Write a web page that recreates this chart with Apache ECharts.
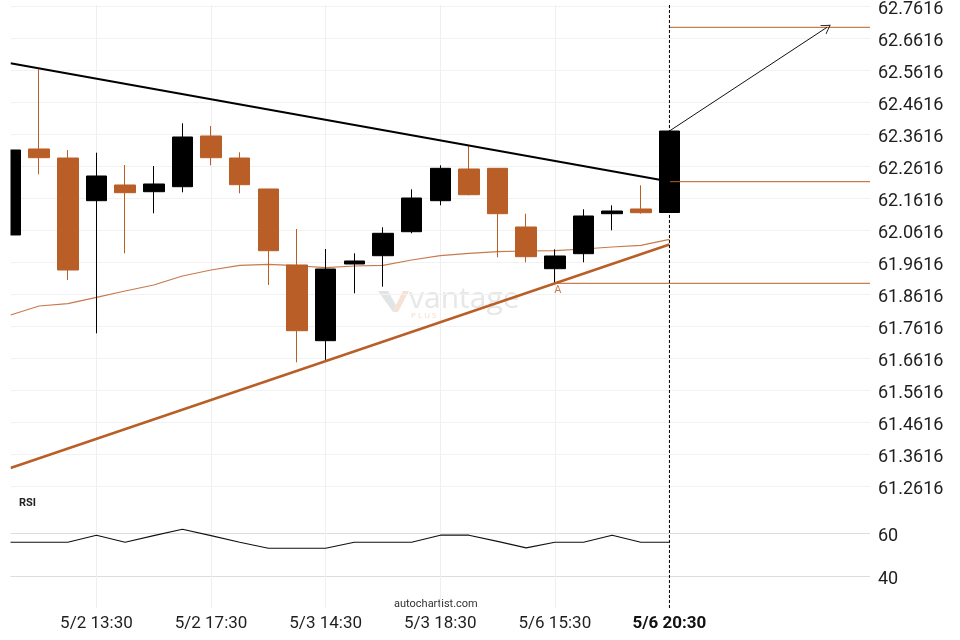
<!DOCTYPE html>
<html>
<head>
<meta charset="utf-8">
<script src="https://cdn.jsdelivr.net/npm/echarts@6/dist/echarts.min.js"></script>
<style>
html,body{margin:0;padding:0;background:#fff;}
#chart{width:960px;height:640px;}
</style>
</head>
<body>
<div id="chart"></div>
<script>
// ---- data ----
const categories = ['5/2 10:30','5/2 11:30','5/2 12:30','5/2 13:30','5/2 14:30','5/2 15:30','5/2 16:30','5/2 17:30',
  '5/2 18:30','5/2 19:30','5/3 13:30','5/3 14:30','5/3 15:30','5/3 16:30','5/3 17:30','5/3 18:30',
  '5/3 19:30','5/6 13:30','5/6 14:30','5/6 15:30','5/6 16:30','5/6 17:30','5/6 19:30','5/6 20:30'];
const labeledIdx = [3, 7, 11, 15, 19, 23];
const futureSlots = 7;
const openVals  = [62.0470,62.3157,62.2875,62.1541,62.2032,62.1822,62.1978,62.3563,62.2875,62.1907,61.9532,61.7166,
  61.9563,61.9822,62.0572,62.1541,62.2532,62.2553,62.0719,61.9416,61.9885,62.1135,62.1282,62.1172];
const closeVals = [62.3125,62.2885,61.9375,62.2313,62.1791,62.2063,62.3532,62.2885,62.2041,61.9978,61.7478,61.9407,
  61.9657,62.0522,62.1625,62.2553,62.1728,62.1135,61.9791,61.9813,62.1063,62.1219,62.1166,62.3719];
const lowVals   = [62.0470,62.2366,61.9063,61.7397,61.9897,62.1147,62.1803,62.2647,62.1772,61.8907,61.6491,61.6563,
  61.8647,61.8853,62.0522,62.1397,62.1710,61.9772,61.9616,61.8960,61.9616,62.0616,62.1135,62.1172];
const highVals  = [62.3125,62.5647,62.3125,62.3041,62.2657,62.2625,62.3960,62.3875,62.3053,62.1907,62.0657,62.0032,
  61.9897,62.0710,62.1897,62.2647,62.3250,62.2553,62.1135,62.0022,62.1272,62.1397,62.2022,62.3719];
const maVals = [61.7969,61.8250,61.8322,61.8522,61.8719,61.8907,61.9188,61.9375,61.9522,61.9553,61.9509,61.9447,
  61.9500,61.9522,61.9688,61.9822,61.9897,61.9947,61.9969,61.9978,62.0032,62.0094,62.0147,62.0335];
const rsiVals = [55.8,55.8,55.8,59.1,55.8,58.9,61.9,58.9,55.8,53.0,53.0,53.0,
  55.8,55.8,55.8,59.1,59.1,56.2,53.2,55.8,55.8,59.1,55.8,55.8];
const resistanceLine = [[0, 62.5835], [23, 62.2141]];
const supportLine = [[0, 61.3188], [23, 62.0172]];
const breakoutLevel = 62.2135;
const targetLevel = 62.6960;
const arrowFrom = [23, 62.3719];
const arrowTo = [28.5, 62.6960];
const pointA = [19, 61.8960];
const priceTicks = { min: 61.2616, max: 62.7616, step: 0.1 };
const rsiTicks = { min: 40, max: 60, step: 20 };

// ---- build ----
const ORANGE = '#b85e26';
const lastIdx = categories.length - 1;
const xMax = lastIdx + futureSlots;
const candleData = categories.map((c, i) => [i, openVals[i], closeVals[i], lowVals[i], highVals[i]]);
const maData = maVals.map((v, i) => [i, v]);
const rsiData = rsiVals.map((v, i) => [i, v]);
const FONT = 'Roboto';

const chart = echarts.init(document.getElementById('chart'), null, {renderer: 'canvas'});
const gridL = 10.5, gridR = 90;
const option = {
  animation: false,
  backgroundColor: '#fff',
  grid: [
    {left: gridL, right: gridR, top: 6.3, bottom: 153.7},
    {left: gridL, right: gridR, top: 533.3, bottom: 64},
    {left: gridL, right: gridR, top: 5, bottom: 32}
  ],
  xAxis: [
    {type: 'value', gridIndex: 0, min: 0, max: xMax, show: false},
    {type: 'value', gridIndex: 1, min: 0, max: xMax, show: false},
    {type: 'value', gridIndex: 2, min: 0, max: xMax,
      axisLine: {show: false},
      axisTick: {show: false, customValues: labeledIdx},
      splitLine: {show: true, lineStyle: {color: '#efefef', width: 1}},
      axisLabel: {
        customValues: labeledIdx, margin: 7, fontFamily: FONT, fontSize: 17, color: '#1e1e1e',
        formatter: v => { const i = Math.round(v); return i === lastIdx ? '{b|' + categories[i] + '}' : categories[i]; },
        rich: {b: {fontFamily: FONT, fontSize: 17, fontWeight: 'bold', color: '#111'}}
      }}
  ],
  yAxis: [
    {type: 'value', gridIndex: 0, position: 'right', min: priceTicks.min, max: priceTicks.max, interval: priceTicks.step,
      axisLine: {show: false}, axisTick: {show: false},
      splitLine: {show: true, lineStyle: {color: '#f2f2f2', width: 1}},
      axisLabel: {margin: 8, fontFamily: FONT, fontSize: 18, color: '#1e1e1e', verticalAlign: 'top', lineHeight: 7,
        formatter: v => (priceTicks.min + Math.round((v - priceTicks.min) / priceTicks.step) * priceTicks.step).toFixed(4)}},
    {type: 'value', gridIndex: 1, position: 'right', min: rsiTicks.min, max: rsiTicks.max, interval: rsiTicks.step,
      axisLine: {show: false}, axisTick: {show: false},
      splitLine: {show: true, lineStyle: {color: '#dddddd', width: 1}},
      axisLabel: {margin: 8, fontFamily: FONT, fontSize: 18, color: '#1e1e1e', verticalAlign: 'top', lineHeight: 7}},
    {type: 'value', gridIndex: 2, min: 0, max: 1, show: false}
  ],
  graphic: [
    {type: 'polygon', z: 0, shape: {points: [[378,291],[388,291],[396,305],[393,312]]}, style: {fill: '#e2e5e5'}},
    {type: 'polygon', z: 0, shape: {points: [[396,305],[403,291],[409,291],[398,312],[393,312]]}, style: {fill: '#f6e2d5'}},
    {type: 'text', z: 0, left: 409, top: 284, style: {text: 'vantage', font: '30px "Open Sans"', fill: '#e6e7e7'}},
    {type: 'text', z: 0, left: 411, top: 312, style: {text: 'P L U S', font: '8px "Open Sans"', fill: '#f7dccb'}},
    {type: 'text', left: 19, top: 498, style: {text: 'RSI', font: 'bold 11px Roboto', fill: '#222'}},
    {type: 'text', left: 394, top: 599, style: {text: 'autochartist.com', font: '11px Roboto', fill: '#333'}},
    // plot-area edge mask (the leftmost candle is cut by the plot border)
    {type: 'rect', z: 100, shape: {x: 0, y: 0, width: gridL, height: 500}, style: {fill: '#fff'}}
  ],
  series: [
    {type: 'candlestick', xAxisIndex: 0, yAxisIndex: 0, data: candleData, encode: {x: 0, y: [1, 2, 3, 4]},
      barWidth: 21, clip: true, z: 3,
      itemStyle: {color: '#000', color0: ORANGE, borderColor: '#000', borderColor0: ORANGE, borderWidth: 1}},
    {type: 'line', xAxisIndex: 0, yAxisIndex: 0, data: maData, showSymbol: false, z: 2,
      lineStyle: {color: '#c77a4d', width: 1.2}},
    {type: 'line', xAxisIndex: 0, yAxisIndex: 0, data: resistanceLine, showSymbol: false, z: 4,
      lineStyle: {color: '#000', width: 2.2}},
    {type: 'line', xAxisIndex: 0, yAxisIndex: 0, data: supportLine, showSymbol: false, z: 4,
      lineStyle: {color: ORANGE, width: 2.4}},
    {type: 'line', xAxisIndex: 0, yAxisIndex: 0, data: [[lastIdx, breakoutLevel], [xMax, breakoutLevel]], showSymbol: false, z: 4,
      lineStyle: {color: ORANGE, width: 1}},
    {type: 'line', xAxisIndex: 0, yAxisIndex: 0, data: [[lastIdx, targetLevel], [xMax, targetLevel]], showSymbol: false, z: 4,
      lineStyle: {color: ORANGE, width: 1},
      markLine: {silent: true, symbol: ['none', 'path://M0,10 L5,0 L10,10 L9,10 L5,1.8 L1,10 Z'], symbolSize: [11, 9],
        label: {show: false}, lineStyle: {color: '#111', width: 1, type: 'solid'},
        data: [[{coord: arrowFrom}, {coord: arrowTo}]]}},
    {type: 'line', xAxisIndex: 0, yAxisIndex: 0, data: [pointA, [xMax, pointA[1]]], showSymbol: false, z: 4,
      lineStyle: {color: ORANGE, width: 1}},
    {type: 'scatter', xAxisIndex: 0, yAxisIndex: 0, data: [pointA], symbolSize: 1, z: 5,
      itemStyle: {color: 'rgba(0,0,0,0)'},
      label: {show: true, formatter: 'A', position: 'bottom', distance: 1, offset: [3, 0], color: ORANGE, fontSize: 11, fontFamily: FONT}},
    {type: 'line', xAxisIndex: 1, yAxisIndex: 1, data: rsiData, showSymbol: false, clip: false,
      lineStyle: {color: '#111', width: 1.2}},
    {type: 'line', xAxisIndex: 2, yAxisIndex: 2, data: [[lastIdx, 0], [lastIdx, 1]], showSymbol: false, z: 6,
      lineStyle: {color: '#000', width: 1, type: [3, 2]}}
  ]
};
chart.setOption(option);
</script>
</body>
</html>
